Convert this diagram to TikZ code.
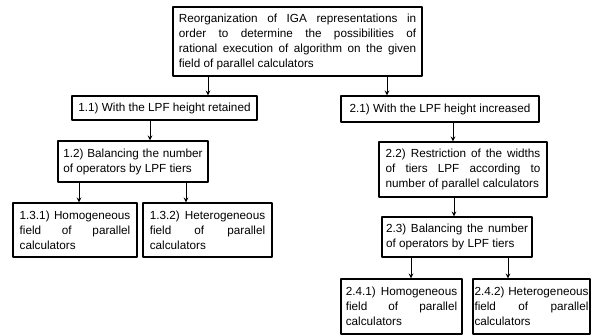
\documentclass[tikz,border=0pt]{standalone}
\usepackage{fontspec}
\setmainfont{Liberation Sans}
\begin{document}
\begin{tikzpicture}[x=0.75pt,y=-0.75pt,line join=round,>=stealth]
    \tikzset{blk/.style={draw,line width=1.1pt,align=justify,inner xsep=1pt,inner ysep=2pt,
            font={\fontsize{8.8}{11.25}\selectfont\hyphenpenalty=10000\tolerance=10000}},
        arr/.style={->,line width=0.6pt}}
    \useasboundingbox (0,0) rectangle (593,335);
    \node[blk,text width=178pt,minimum width=186.75pt,minimum height=51.75pt] (top) at (297.5,41.5)
        {Reorganization of IGA representations in\linebreak order to determine the possibilities of\linebreak rational execution of algorithm on the given\linebreak field of parallel calculators};
    \node[blk,align=center,minimum width=138.75pt,minimum height=18pt] (b11) at (164.5,108) {1.1) With the LPF height retained};
    \node[blk,text width=104.5pt,minimum width=112.5pt,minimum height=30.75pt] (b12) at (133,161.5)
        {1.2) Balancing the number\linebreak of operators by LPF tiers};
    \node[blk,text width=83pt,minimum width=93pt,minimum height=40.5pt] (b131) at (75,230)
        {1.3.1) Homogeneous\linebreak field of parallel\linebreak calculators};
    \node[blk,text width=86.5pt,minimum width=96.75pt,minimum height=40.5pt] (b132) at (207.5,230)
        {1.3.2) Heterogeneous\linebreak field of parallel\linebreak calculators};
    \node[blk,align=center,minimum width=148.5pt,minimum height=19.5pt] (b21) at (440,109) {2.1)\ With the LPF height increased};
    \node[blk,text width=116pt,minimum width=126pt,minimum height=41.25pt] (b22) at (463,169.5)
        {2.2) Restriction of the widths\linebreak of tiers LPF according to\linebreak number of parallel calculators};
    \node[blk,text width=106.5pt,minimum width=112.5pt,minimum height=30pt] (b23) at (457,237)
        {2.3) Balancing the number\linebreak of operators by LPF tiers};
    \node[blk,text width=83.5pt,minimum width=90.75pt,minimum height=41.25pt] (b241) at (401.5,306.5)
        {2.4.1) Homogeneous\linebreak field of parallel\linebreak calculators};
    \node[blk,text width=85.5pt,minimum width=87.75pt,minimum height=41.25pt] (b242) at (531.5,306.5)
        {2.4.2) Heterogeneous\linebreak field of parallel\linebreak calculators};
    \foreach \a/\b/\x in {top/b11/208,top/b21/387,b11/b12/150,b12/b131/79,b12/b132/186,
            b21/b22/453,b22/b23/454,b23/b241/411,b23/b242/508}
        {
            \coordinate (c) at (\x,0);
            \draw[arr] (\a.south -| c) -- (\b.north -| c);
        }
\end{tikzpicture}
\end{document}
